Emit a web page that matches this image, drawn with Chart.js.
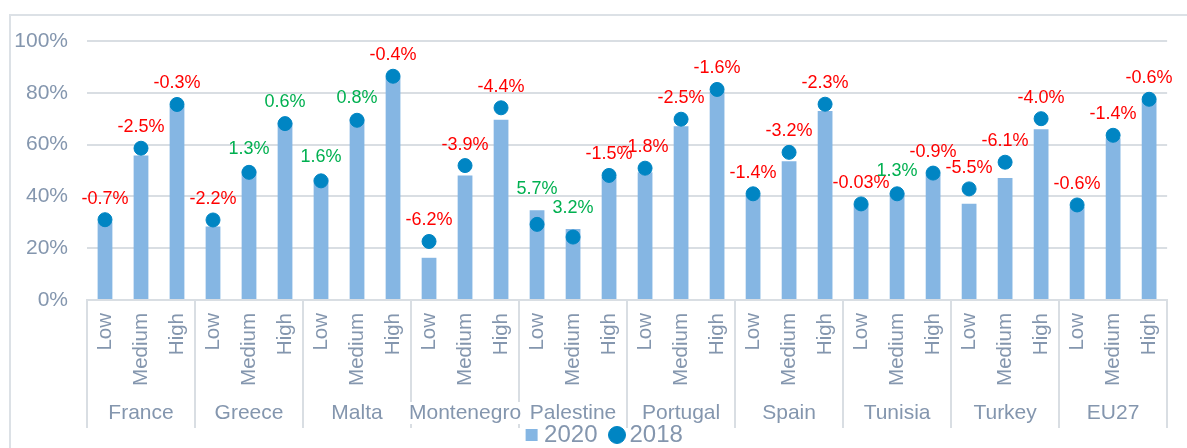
<!DOCTYPE html>
<html><head><meta charset="utf-8">
<script src="https://cdn.jsdelivr.net/npm/chart.js@4/dist/chart.umd.min.js"></script>
<style>
html,body{margin:0;padding:0;background:#fff;overflow:hidden;}
#wrap{position:relative;width:1187px;height:448px;overflow:hidden;}
#frame{position:absolute;left:9px;top:14px;width:1300px;height:500px;border-left:2px solid #DCE1E6;border-top:2px solid #DCE1E6;}
canvas{position:absolute;left:0;top:0;}
</style></head><body>
<div id="wrap"><div id="frame"></div><canvas id="c" width="1187" height="457"></canvas></div>
<script>
const countries = ['France','Greece','Malta','Montenegro','Palestine','Portugal','Spain','Tunisia','Turkey','EU27'];
const levels = ['Low','Medium','High'];
const share2020 = [
  30, 55.8, 75,
  28.4, 50, 68.5,
  47, 70, 86,
  16.3, 48.1, 69.6,
  34.7, 27.4, 47.5,
  49.3, 67.1, 80.5,
  40.5, 53.6, 73,
  37, 41.5, 48.5,
  37.2, 47.1, 65.9,
  36, 62.5, 77
];
const share2018 = [
  31, 58.6, 75.5,
  30.9, 49.3, 68.1,
  46, 69.4, 86.4,
  22.6, 51.9, 74.2,
  29.2, 24.3, 48.1,
  50.9, 69.8, 81.3,
  41, 57, 75.6,
  37.1, 41, 49,
  42.9, 53.2, 70,
  36.7, 63.6, 77.5
];
const changeLabels = [
  '-0.7%','-2.5%','-0.3%',
  '-2.2%','1.3%','0.6%',
  '1.6%','0.8%','-0.4%',
  '-6.2%','-3.9%','-4.4%',
  '5.7%','3.2%','-1.5%',
  '-1.8%','-2.5%','-1.6%',
  '-1.4%','-3.2%','-2.3%',
  '-0.03%','1.3%','-0.9%',
  '-5.5%','-6.1%','-4.0%',
  '-0.6%','-1.4%','-0.6%'
];
const yTickStep = 20;
const yMax = 100;

const subLabels = [];
countries.forEach(() => levels.forEach(l => subLabels.push(l)));

const GREY = '#8496AE';
const LINE = '#D9DEE3';
const FONT = "'Liberation Sans', Arial, sans-serif";
Chart.defaults.font.family = FONT;

const legendShift = {
  id: 'legendShift',
  afterLayout(chart) {
    const lg = chart.legend;
    if (!lg) return;
    lg.left += 22; lg.right += 22;
  }
};
const groupPlugin = {
  id: 'groups',
  beforeDraw(chart) {
    const x = chart.scales.x, ctx = chart.ctx;
    const step = x.getPixelForValue(1) - x.getPixelForValue(0);
    const bottom = chart.chartArea.bottom;
    ctx.save();
    ctx.strokeStyle = LINE; ctx.lineWidth = 2;
    for (let g = 0; g <= countries.length; g++) {
      const last = g * 3 >= subLabels.length;
      const px = Math.round(x.getPixelForValue(last ? subLabels.length - 1 : g * 3) + (last ? step / 2 : -step / 2));
      ctx.beginPath(); ctx.moveTo(px, bottom); ctx.lineTo(px, bottom + 128); ctx.stroke();
    }
    ctx.font = '21px ' + FONT;
    ctx.textAlign = 'center'; ctx.textBaseline = 'middle';
    const ty = bottom + 113;
    countries.forEach((c, g) => {
      const cx = (x.getPixelForValue(g * 3) + x.getPixelForValue(g * 3 + 2)) / 2;
      const w = ctx.measureText(c).width;
      ctx.fillStyle = '#FFFFFF';
      ctx.fillRect(cx - w / 2, ty - 11, w, 22);
      ctx.fillStyle = GREY;
      ctx.fillText(c, cx, ty);
    });
    ctx.restore();
  }
};
const labelPlugin = {
  id: 'changeLabels',
  afterDatasetsDraw(chart) {
    const ctx = chart.ctx;
    const bm = chart.getDatasetMeta(0), lm = chart.getDatasetMeta(1);
    ctx.save();
    ctx.font = '18px ' + FONT;
    ctx.textAlign = 'center'; ctx.textBaseline = 'middle';
    lm.data.forEach((p, i) => {
      const top = Math.min(p.y, bm.data[i].y);
      const t = changeLabels[i];
      ctx.fillStyle = t.startsWith('-') ? '#FF0000' : '#00B050';
      ctx.fillText(t, p.x, top - 21);
    });
    ctx.restore();
  }
};

new Chart(document.getElementById('c'), {
  data: {
    labels: subLabels,
    datasets: [
      { type: 'bar', label: '2020', data: share2020, backgroundColor: '#85B6E3', borderWidth: 0,
        barPercentage: 0.41, categoryPercentage: 1, order: 2, pointStyle: 'rect' },
      { type: 'line', label: '2018', data: share2018, showLine: false, pointRadius: 7, pointHoverRadius: 7,
        pointBorderWidth: 1, pointBackgroundColor: '#0085C3', pointBorderColor: '#0085C3',
        backgroundColor: '#0085C3', borderColor: '#0085C3', order: 1, pointStyle: 'circle' }
    ]
  },
  options: {
    responsive: false, animation: false,
    layout: { padding: { top: 41, right: 17, left: 0, bottom: 0 } },
    plugins: {
      tooltip: { enabled: false },
      legend: {
        position: 'bottom',
        labels: { usePointStyle: true, boxHeight: 12, boxWidth: 1, padding: 19, color: GREY,
          font: { size: 24 }, sort: (a, b) => a.datasetIndex - b.datasetIndex }
      }
    },
    scales: {
      x: { type: 'category', offset: true,
        grid: { display: false, drawTicks: false },
        border: { display: true, color: LINE, width: 2 },
        ticks: { minRotation: 90, maxRotation: 90, autoSkip: false, padding: 13, color: GREY, font: { size: 20.5 } },
        afterFit(s) { s.height = 104; } },
      y: { min: 0, max: yMax,
        ticks: { stepSize: yTickStep, callback: v => v + '%', padding: 19, color: GREY, font: { size: 21 } },
        grid: { color: LINE, lineWidth: 2, drawTicks: false },
        border: { display: false },
        afterFit(s) { s.width = 87; } }
    }
  },
  plugins: [legendShift, groupPlugin, labelPlugin]
});
</script>
</body></html>
